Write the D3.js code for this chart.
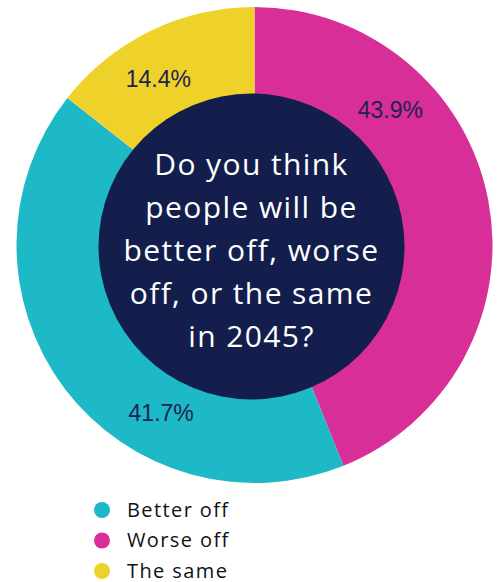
<!DOCTYPE html>
<html lang="en">
<head>
    <meta charset="UTF-8">
    <title>2045 donut</title>
    <script src="https://cdn.jsdelivr.net/npm/d3@7"></script>
    <style>
        body { margin: 0; background: #fff; }
    </style>
</head>
<body>
    <script>
        var categories = ["Worse off", "Better off", "The same"];   // slice order, clockwise from top
        var values = [43.9, 41.7, 14.4];
        var legendOrder = ["Better off", "Worse off", "The same"];
        var question = ["Do you think", "people will be", "better off, worse", "off, or the same", "in 2045?"];

        var colors = {"Better off": "#1db9c6", "Worse off": "#d82e97", "The same": "#efd229"};
        var labelFrac = [0.285, 0.34, 0.42];   // where along each slice the % label sits

        var width = 500, height = 582;
        var cx = 254.5, cy = 245;
        var outerR = 238, innerR = 153;

        var svg = d3.select("body").append("svg")
                .attr("width", width).attr("height", height);

        var pie = d3.pie().sort(null).value(function(d){ return d; });
        var arcs = pie(values);

        var arc = d3.arc().innerRadius(0).outerRadius(outerR);

        var g = svg.append("g").attr("transform", "translate(" + cx + "," + cy + ")");

        /* slices */
        g.selectAll("path")
                .data(arcs)
                .enter()
                .append("path")
                .attr("d", arc)
                .attr("fill", function(d, i){ return colors[categories[i]]; });

        /* labels */
        var labelR = 192;
        g.selectAll("text.pct")
                .data(arcs)
                .enter()
                .append("text")
                .attr("class", "pct")
                .attr("x", function(d, i){
                    var a = d.startAngle + (d.endAngle - d.startAngle) * labelFrac[i];
                    return labelR * Math.sin(a);
                })
                .attr("y", function(d, i){
                    var a = d.startAngle + (d.endAngle - d.startAngle) * labelFrac[i];
                    return -labelR * Math.cos(a);
                })
                .attr("dy", "0.36em")
                .attr("text-anchor", "middle")
                .attr("font-family", "'Liberation Sans', Arial, sans-serif")
                .attr("font-size", "23px")
                .attr("fill", "#1c2250")
                .text(function(d){ return d.data.toFixed(1) + "%"; });

        /* centre disc */
        svg.append("circle")
                .attr("cx", 251.5).attr("cy", 246.5).attr("r", innerR)
                .attr("fill", "#131e4d");

        svg.append("g").selectAll("text")
                .data(question)
                .enter()
                .append("text")
                .attr("x", 251.5)
                .attr("y", function(d, i){ return 175 + i * 43; })
                .attr("text-anchor", "middle")
                .attr("font-family", "'Open Sans', sans-serif")
                .attr("font-size", "30px")
                .attr("letter-spacing", "1.4px")
                .attr("fill", "#ffffff")
                .text(function(d){ return d; });

        /* legend */
        var legend = svg.append("g").selectAll("g")
                .data(legendOrder)
                .enter()
                .append("g")
                .attr("transform", function(d, i){ return "translate(102," + (510 + i * 30.5) + ")"; });

        legend.append("circle")
                .attr("r", 8)
                .attr("fill", function(d){ return colors[d]; });

        legend.append("text")
                .attr("x", 25)
                .attr("y", 6.5)
                .attr("font-family", "'Open Sans', sans-serif")
                .attr("font-size", "20px")
                .attr("letter-spacing", "1.4px")
                .attr("fill", "#111111")
                .text(function(d){ return d; });
    </script>
</body>
</html>
